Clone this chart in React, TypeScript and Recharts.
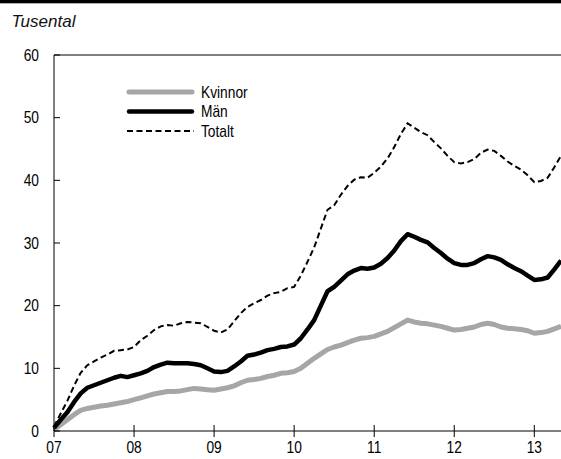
import React from 'react';
import { LineChart, Line, XAxis, YAxis, ReferenceLine, Legend } from 'recharts';

const yearLabels = ['07', '08', '09', '10', '11', '12', '13'];
const xTicks = [0, 12, 24, 36, 48, 60, 72];
const yTicks = [0, 10, 20, 30, 40, 50, 60];

// Monthly values, Jan 2007 - May 2013 (tusental)
const kvinnor = [
  0.2, 1.0, 1.8, 2.6, 3.3, 3.6, 3.8, 4.0, 4.1, 4.3, 4.5, 4.7,
  5.0, 5.3, 5.6, 5.9, 6.1, 6.3, 6.3, 6.4, 6.6, 6.8, 6.7, 6.6,
  6.5, 6.7, 6.9, 7.2, 7.7, 8.1, 8.2, 8.4, 8.7, 8.9, 9.2, 9.3,
  9.5, 10.0, 10.8, 11.6, 12.3, 13.0, 13.4, 13.7, 14.1, 14.5, 14.8, 14.9,
  15.1, 15.5, 15.9, 16.5, 17.1, 17.7, 17.4, 17.2, 17.1, 16.9, 16.7, 16.4,
  16.1, 16.2, 16.4, 16.6, 17.0, 17.2, 17.0, 16.6, 16.4, 16.3, 16.2, 16.0,
  15.6, 15.7, 15.9, 16.3, 16.7,
];
const man = [
  0.5, 1.8, 3.0, 4.6, 6.0, 6.9, 7.3, 7.7, 8.1, 8.5, 8.8, 8.6,
  8.9, 9.2, 9.6, 10.2, 10.6, 10.9, 10.8, 10.8, 10.8, 10.7, 10.5, 10.0,
  9.5, 9.4, 9.6, 10.3, 11.1, 12.0, 12.2, 12.5, 12.9, 13.1, 13.4, 13.5,
  13.8, 14.8, 16.2, 17.7, 20.0, 22.3, 23.0, 24.0, 25.0, 25.6, 26.0, 25.9,
  26.1, 26.7, 27.6, 28.8, 30.3, 31.4, 31.0, 30.5, 30.1, 29.2, 28.4, 27.5,
  26.8, 26.5, 26.5, 26.8, 27.4, 27.9, 27.7, 27.3, 26.6, 26.0, 25.5, 24.8,
  24.1, 24.2, 24.5, 25.8, 27.2,
];
const totalt = [
  0.7, 2.8, 4.8, 7.2, 9.3, 10.5, 11.1, 11.7, 12.2, 12.8, 12.9, 13.0,
  13.4, 14.5, 15.2, 16.1, 16.7, 16.9, 16.8, 17.2, 17.4, 17.3, 17.2, 16.6,
  16.0, 15.7, 16.2, 17.5, 18.8, 19.8, 20.4, 20.9, 21.6, 22.0, 22.2, 22.8,
  23.0, 24.8, 27.0, 29.3, 32.3, 35.3, 36.0, 37.7, 39.1, 40.1, 40.5, 40.4,
  41.2, 42.2, 43.5, 45.3, 47.4, 49.1, 48.4, 47.7, 47.2, 46.1, 45.1, 43.9,
  42.9, 42.7, 42.9, 43.4, 44.4, 44.9, 44.7, 43.9, 43.0, 42.3, 41.7, 40.8,
  39.7, 39.9, 40.4, 42.1, 43.9,
];

const seriesLabels = ['Kvinnor', 'Män', 'Totalt'];

const data = kvinnor.map((v, i) => ({ i, kvinnor: v, man: man[i], totalt: totalt[i] }));

const FONT = "'Liberation Sans', Arial, sans-serif";
const GRAY = '#a6a6a6';
const SX = 0.86;

const NarrowText = ({ x, y, anchor, children }: any) => (
  <text
    transform={`translate(${x},${y}) scale(${SX},1)`}
    x={0}
    y={0}
    textAnchor={anchor}
    fontSize={16}
    fontFamily={FONT}
    fill="#000"
  >
    {children}
  </text>
);

const XTick = (props: any) => {
  const { x, y, payload } = props;
  const idx = xTicks.indexOf(payload.value);
  return (
    <g>
      <line x1={x} x2={x} y1={y - 6} y2={y + 6} stroke="#000" strokeWidth={1} />
      <NarrowText x={x} y={y + 22} anchor="middle">{yearLabels[idx]}</NarrowText>
    </g>
  );
};

const YTick = (props: any) => {
  const { x, y, payload } = props;
  return (
    <g>
      <line x1={x} x2={x + 6} y1={y} y2={y} stroke="#000" strokeWidth={1} />
      <NarrowText x={x - 15} y={y + 5.7} anchor="end">{payload.value}</NarrowText>
    </g>
  );
};

const LegendContent = () => (
  <svg width={160} height={64} style={{ display: 'block' }}>
    <line x1={6} x2={69} y1={12} y2={12} stroke={GRAY} strokeWidth={5} strokeLinecap="round" />
    <line x1={6} x2={69} y1={31.5} y2={31.5} stroke="#000" strokeWidth={4.5} strokeLinecap="round" />
    <line x1={4} x2={71} y1={51} y2={51} stroke="#000" strokeWidth={2} strokeDasharray="6 3.5" />
    {seriesLabels.map((s, k) => (
      <NarrowText key={s} x={78} y={17.7 + k * 19.5} anchor="start">{s}</NarrowText>
    ))}
  </svg>
);

export default function App() {
  return (
    <div style={{ position: 'absolute', left: 0, top: 0, width: 561, height: 459, background: '#fff', overflow: 'hidden' }}>
      <svg width={561} height={40} style={{ position: 'absolute', left: 0, top: 0 }}>
        <rect x={0} y={0} width={561} height={3.3} fill="#000" />
        <text x={11.5} y={27} fontSize={17} fontStyle="italic" fontFamily={FONT} fill="#111">
          Tusental
        </text>
      </svg>
      <div style={{ position: 'absolute', left: 0, top: 0 }}>
        <LineChart width={561} height={459} data={data} margin={{ top: 55, right: 0, left: 0, bottom: 0 }}>
          <XAxis
            dataKey="i"
            type="number"
            domain={[0, 76]}
            ticks={xTicks}
            tick={<XTick />}
            tickSize={0}
            tickMargin={0}
            tickLine={false}
            axisLine={{ stroke: '#000', strokeWidth: 1 }}
            height={28}
            interval={0}
          />
          <YAxis
            type="number"
            domain={[0, 60]}
            ticks={yTicks}
            tick={<YTick />}
            tickSize={0}
            tickMargin={0}
            tickLine={false}
            axisLine={{ stroke: '#000', strokeWidth: 1 }}
            width={54}
            interval={0}
          />
          <ReferenceLine y={60} stroke="#000" strokeWidth={1} />
          <Legend
            layout="horizontal"
            verticalAlign="middle"
            align="center"
            wrapperStyle={{ left: 123, top: 80, width: 160, height: 64 }}
            content={<LegendContent />}
          />
          <Line dataKey="kvinnor" name="Kvinnor" stroke={GRAY} strokeWidth={5} dot={false} strokeLinejoin="round" isAnimationActive={false} />
          <Line dataKey="man" name="Män" stroke="#000" strokeWidth={4.5} dot={false} strokeLinejoin="round" isAnimationActive={false} />
          <Line dataKey="totalt" name="Totalt" stroke="#000" strokeWidth={2} strokeDasharray="6 3.5" dot={false} isAnimationActive={false} />
        </LineChart>
      </div>
    </div>
  );
}
